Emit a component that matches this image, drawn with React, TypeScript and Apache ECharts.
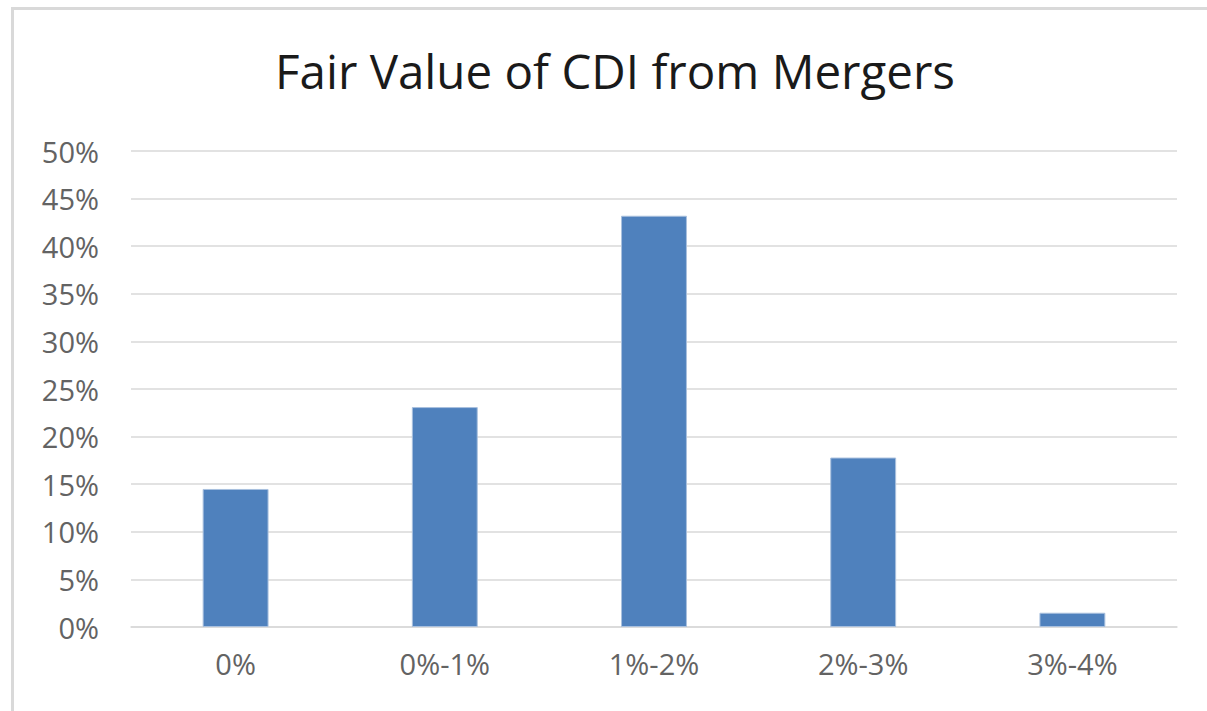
import React, { useEffect, useRef } from "react";
import * as echarts from "echarts";

const titleText = "Fair Value of CDI from Mergers";
const categories = ["0%", "0%-1%", "1%-2%", "2%-3%", "3%-4%"];
const values = [14.5, 23.1, 43.2, 17.8, 1.5];
const yTicks = { min: 0, max: 50, interval: 5 };

export default function App() {
  const ref = useRef<HTMLDivElement>(null);
  useEffect(() => {
    if (!ref.current) return;
    const chart = echarts.init(ref.current, undefined, { renderer: "svg" });
    const font = "'Open Sans', 'Noto Sans', sans-serif";
    chart.setOption({
      animation: false,
      backgroundColor: "#ffffff",
      title: {
        text: titleText,
        left: 270,
        top: 41,
        textStyle: { fontFamily: font, fontSize: 47.5, fontWeight: "normal", color: "#1a1a1a" },
      },
      graphic: [
        { type: "rect", shape: { x: 11, y: 7, width: 1196, height: 3 }, style: { fill: "#d9d9d9" } },
        { type: "rect", shape: { x: 11, y: 7, width: 3, height: 704 }, style: { fill: "#d9d9d9" } },
      ],
      grid: { left: 131, right: 30, top: 151, bottom: 84, containLabel: false },
      xAxis: {
        type: "category",
        data: categories,
        axisLine: { show: true, lineStyle: { color: "#d9d9d9", width: 1.5 } },
        axisTick: { show: false },
        axisLabel: { fontFamily: font, fontSize: 29, color: "#636363", margin: 22 },
      },
      yAxis: {
        type: "value",
        min: yTicks.min,
        max: yTicks.max,
        interval: yTicks.interval,
        axisLine: { show: false },
        axisTick: { show: false },
        splitLine: { lineStyle: { color: "#d9d9d9", width: 1.5 } },
        axisLabel: {
          fontFamily: font,
          fontSize: 29,
          color: "#636363",
          margin: 32,
          formatter: (v: number) => `${v}%`,
        },
      },
      series: [
        {
          type: "bar",
          data: values,
          barWidth: "31.5%",
          itemStyle: { color: "#4f81bd", borderColor: "#a9c0de", borderWidth: 1 },
        },
      ],
    });
    return () => chart.dispose();
  }, []);
  return (
    <div
      ref={ref}
      style={{ position: "fixed", left: 0, top: 0, width: 1207, height: 711, background: "#fff" }}
    />
  );
}
